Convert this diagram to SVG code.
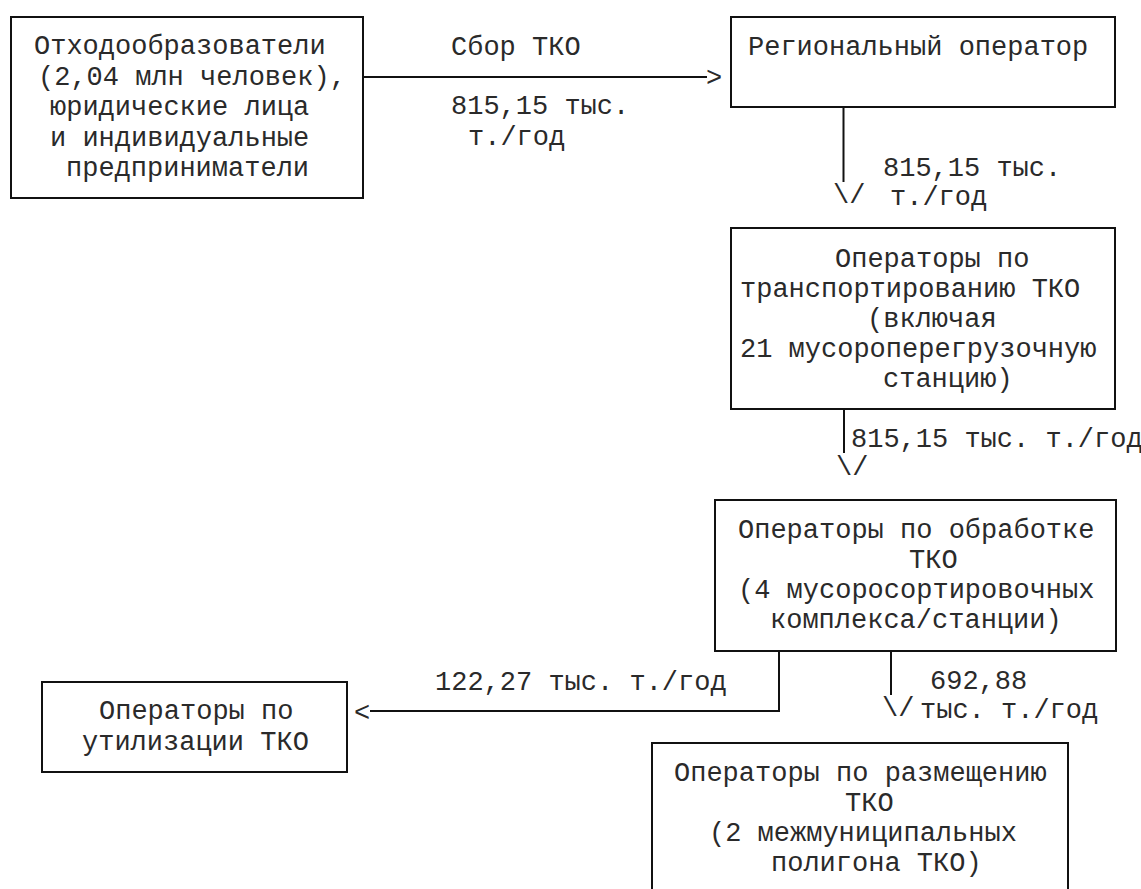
<svg xmlns="http://www.w3.org/2000/svg" width="1141" height="889" viewBox="0 0 1141 889">
<style>
.box{fill:#fff;stroke:#111;stroke-width:2}
.ln{fill:none;stroke:#111;stroke-width:2}
text{font-family:"Liberation Mono","Courier New",monospace;font-size:27px;fill:#2a2a2a}
</style>
<rect width="1141" height="889" fill="#fff"/>
<g id="connectors">
<line class="ln" x1="363" y1="77" x2="707" y2="77"/>
<text x="706" y="86">&gt;</text>
<line class="ln" x1="843.5" y1="107" x2="843.5" y2="182"/>
<text x="833" y="203">\/</text>
<line class="ln" x1="844" y1="409" x2="844" y2="453"/>
<text x="836" y="475">\/</text>
<polyline class="ln" points="779,651 779,711 370,711"/>
<text x="354" y="721">&lt;</text>
<line class="ln" x1="891" y1="651" x2="891" y2="695"/>
<text x="882" y="716">\/</text>
<text x="451" y="55">Сбор ТКО</text>
<text x="451" y="114">815,15 тыс.</text>
<text x="468" y="145">т./год</text>
<text x="883" y="176">815,15 тыс.</text>
<text x="890" y="205">т./год</text>
<text x="851" y="447">815,15 тыс. т./год</text>
<text x="435" y="690">122,27 тыс. т./год</text>
<text x="930" y="689">692,88</text>
<text x="920" y="718">тыс. т./год</text>
</g>
<g id="node-waste-producers">
<rect class="box" x="11" y="17" width="352" height="181"/>
<text x="34" y="54">Отходообразователи</text>
<text x="38" y="84.5">(2,04 млн человек),</text>
<text x="50" y="115">юридические лица</text>
<text x="50" y="145.5">и индивидуальные</text>
<text x="66" y="176">предприниматели</text>
</g>
<g id="node-regional-operator">
<rect class="box" x="731" y="17" width="384" height="90"/>
<text x="748" y="55">Региональный оператор</text>
</g>
<g id="node-transport">
<rect class="box" x="731" y="228" width="384" height="181"/>
<text x="835" y="267">Операторы по</text>
<text x="740" y="297">транспортированию ТКО</text>
<text x="867" y="327">(включая</text>
<text x="740" y="357">21 мусороперегрузочную</text>
<text x="883" y="387">станцию)</text>
</g>
<g id="node-processing">
<rect class="box" x="715" y="500" width="401" height="151"/>
<text x="738" y="538">Операторы по обработке</text>
<text x="909" y="568">ТКО</text>
<text x="738" y="598">(4 мусоросортировочных</text>
<text x="770" y="628">комплекса/станции)</text>
</g>
<g id="node-utilization">
<rect class="box" x="42" y="682" width="305" height="90"/>
<text x="99" y="719">Операторы  по</text>
<text x="82" y="750">утилизации ТКО</text>
</g>
<g id="node-disposal">
<path class="ln" d="M652,895 V743 H1068 V895"/>
<text x="674" y="781">Операторы по размещению</text>
<text x="845" y="811">ТКО</text>
<text x="709" y="841">(2 межмуниципальных</text>
<text x="771" y="871">полигона ТКО)</text>
</g>
</svg>
